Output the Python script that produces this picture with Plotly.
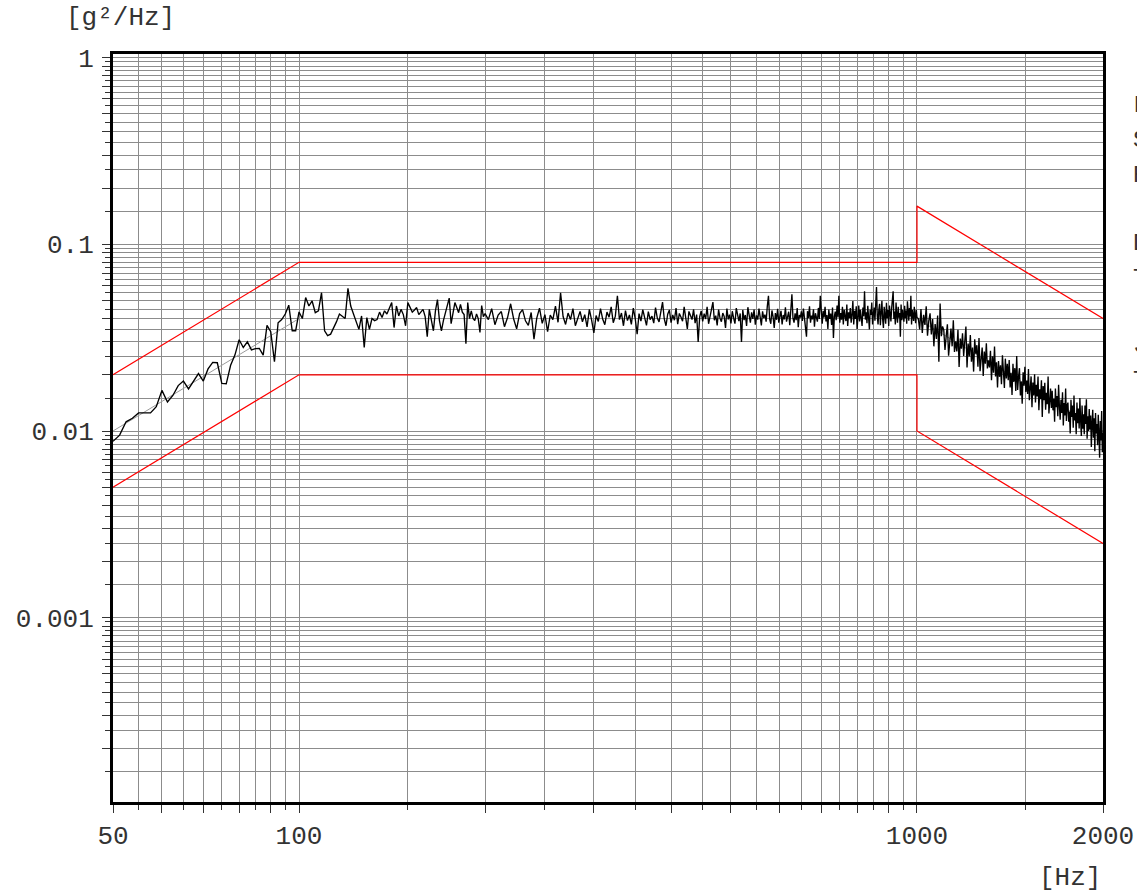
import numpy as np
import plotly.graph_objects as go

# ---------------- data ----------------
# tolerance limits and reference profile (g²/Hz)
lim_f = [50, 100, 1000, 1000, 2000]
upper_lim = [0.02, 0.08, 0.08, 0.16, 0.04]
lower_lim = [0.005, 0.02, 0.02, 0.01, 0.0025]
ref_f = [50, 100, 1000, 2000]
ref_psd = [0.01, 0.04, 0.04, 0.01]

# measured PSD, values in units of 1e-4 g²/Hz
# 50 Hz .. 98.75 Hz, step 1.25 Hz
psd_a = [88, 95, 112, 117, 125, 125, 125, 135, 165, 143, 155, 175, 185, 168, 185, 203, 185, 215, 233, 232,
         180, 179, 225, 255, 308, 280, 300, 272, 276, 277, 255, 368, 340, 235, 380, 395, 423, 472, 344, 344]
# 100 Hz .. 200 Hz, step 1.25 Hz
psd_b = [434, 400, 518, 467, 497, 430, 440, 550, 344, 324, 330, 355, 385, 423, 410, 400, 580, 467, 423, 380,
         350, 413, 280, 405, 350, 400, 390, 395, 433, 405, 440, 423, 458, 487, 358, 467, 413, 448, 420, 366,
         487, 458, 433, 445, 458, 420, 433, 448, 410, 320, 448, 400, 344, 440, 506, 390, 344, 390, 433, 470,
         515, 376, 420, 487, 458, 430, 476, 433, 420, 293, 487, 400, 440, 400, 390, 423, 400, 337, 470, 410, 425]
# 202.5 Hz .. 1000 Hz, step 2.5 Hz
psd_c = [395, 452, 371, 418, 436, 362, 405, 480, 398, 352, 425, 447, 389, 368, 431, 310, 402, 455, 377, 420,
         340, 418, 395, 466, 382, 550, 410, 372, 428, 395, 452, 366, 405, 437, 384, 420, 361, 448, 392, 335,
         415, 386, 452, 398, 371, 433, 407, 462, 380, 412, 530, 395, 428, 366, 441, 390, 418, 372, 455, 400,
         330, 425, 388, 447, 405, 368, 436, 395, 412, 378, 458, 402, 384, 430, 490, 398, 366, 422, 445, 380,
         418, 392, 455, 373, 426, 408, 387, 462, 401, 352, 437, 415, 395, 448, 378, 420, 300, 408, 440, 386,
         425, 398, 462, 375, 410, 436, 490, 392, 415, 368, 447, 402, 385, 428, 411, 356, 452, 396, 420, 377,
         438, 402, 376, 455, 413, 388, 426, 300, 445, 392, 418, 365, 460, 405, 380, 432, 398, 447, 371, 416,
         395, 452, 410, 368, 437, 402, 420, 385, 465, 530, 398, 375, 442, 408, 356, 428, 394, 451, 380, 415,
         440, 372, 418, 396, 460, 385, 412, 435, 368, 448, 540, 402, 380, 426, 392, 455, 360, 418, 405, 437,
         388, 452, 410, 375, 320, 438, 402, 465, 380, 415, 396, 448, 362, 427, 410, 385, 456, 398, 530, 412,
         375, 440, 405, 462, 386, 418, 352, 447, 398, 425, 370, 458, 315, 410, 436, 392, 470, 405, 530, 380,
         428, 395, 462, 372, 445, 410, 388, 476, 365, 432, 402, 455, 380, 418, 496, 372, 440, 398, 465, 352,
         418, 470, 386, 445, 402, 365, 458, 412, 560, 395, 432, 378, 468, 405, 350, 446, 418, 488, 372, 426,
         458, 390, 505, 590, 412, 372, 445, 480, 368, 432, 498, 395, 356, 462, 418, 375, 486, 402, 445, 365,
         470, 412, 386, 455, 520, 560, 398, 436, 372, 488, 415, 380, 462, 405, 428, 320, 476, 392, 445, 410,
         385, 468, 402, 442, 375, 495, 418, 390, 456, 410, 530, 372, 446, 405, 388, 462, 420, 378, 445, 405]
# 1005 Hz .. 2000 Hz, step 5 Hz
psd_d = [400, 350, 450, 335, 419, 370, 465, 324, 389, 427,
         329, 398, 284, 374, 311, 415, 235, 481, 322, 363,
         348, 272, 322, 373, 253, 310, 354, 284, 392, 265,
         302, 267, 348, 220, 313, 276, 334, 252, 290, 363,
         219, 294, 251, 326, 235, 280, 208, 310, 259, 288,
         221, 315, 209, 251, 280, 197, 266, 229, 295, 216,
         239, 219, 269, 187, 251, 205, 283, 196, 233, 171,
         237, 195, 225, 178, 254, 208, 170, 244, 191, 229,
         187, 240, 171, 205, 156, 229, 183, 217, 164, 252,
         166, 195, 217, 155, 184, 140, 206, 175, 221, 162,
         186, 158, 215, 146, 175, 196, 134, 182, 155, 201,
         142, 177, 153, 196, 129, 167, 148, 187, 119, 174,
         146, 181, 130, 160, 139, 196, 124, 151, 169, 133,
         164, 129, 149, 112, 169, 134, 154, 120, 177, 137,
         115, 147, 125, 161, 107, 141, 121, 169, 113, 137,
         142, 112, 127, 97, 147, 119, 137, 104, 155, 114,
         125, 96, 142, 110, 132, 103, 150, 114, 94, 137,
         103, 123, 96, 137, 109, 148, 91, 120, 100, 131,
         102, 121, 82, 110, 130, 92, 117, 78, 125, 97,
         109, 84, 122, 95, 72, 113, 89, 128, 77, 98]

# axis labels
x_label_vals = [50, 100, 1000, 2000]
x_label_text = ["50", "100", "1000", "2000"]
y_label_vals = [1, 0.1, 0.01, 0.001]
y_label_text = ["1", "0.1", "0.01", "0.001"]

# right-hand info block (cut off by the page edge)
info_lines = ["Level", "Sweep", "RMS", "Demand", "Time", "'", "Jit", "Total"]
info_rows_px = [105, 140, 175, 243, 278, 310, 345, 380]

# ---------------- build ----------------
f_a = 50 + 1.25 * np.arange(len(psd_a))
f_b = 100 + 1.25 * np.arange(len(psd_b))
f_c = 202.5 + 2.5 * np.arange(len(psd_c))
f_d = 1005 + 5.0 * np.arange(len(psd_d))
freq = np.concatenate([f_a, f_b, f_c, f_d])
psd = np.concatenate([psd_a, psd_b, psd_c, psd_d]) * 1e-4

# grid / tick positions
x_major = [50, 60, 70, 80, 90, 100, 200, 300, 400, 500, 600, 700, 800, 900, 1000, 2000]
x_minor = [55, 65, 75, 85, 95, 150, 250, 350, 450, 550, 650, 750, 850, 950, 1500]
y_major, y_minor = [], []
for e in [-4, -3, -2, -1]:
    for k in range(1, 10):
        y_major.append(k * 10.0 ** e)
        y_minor.append((k + 0.5) * 10.0 ** e)
y_major.append(1.0)

x_text = [x_label_text[x_label_vals.index(v)] if v in x_label_vals else "" for v in x_major]
y_text = []
for v in y_major:
    lab = ""
    for lv, lt in zip(y_label_vals, y_label_text):
        if abs(v - lv) / lv < 1e-9:
            lab = lt
    y_text.append(lab)

FONT = "Liberation Mono, Courier New, monospace"
GRID = "#8c8c8c"
TXT = "#333333"

fig = go.Figure()
fig.add_trace(go.Scatter(x=ref_f, y=ref_psd, mode="lines",
                         line=dict(color="#9a9a9a", width=1), showlegend=False, hoverinfo="skip"))
fig.add_trace(go.Scatter(x=freq, y=psd, mode="lines",
                         line=dict(color="#000000", width=1.35), showlegend=False))
fig.add_trace(go.Scatter(x=lim_f, y=upper_lim, mode="lines",
                         line=dict(color="#ff0000", width=1.2), showlegend=False))
fig.add_trace(go.Scatter(x=lim_f, y=lower_lim, mode="lines",
                         line=dict(color="#ff0000", width=1.2), showlegend=False))

axis_common = dict(
    type="log", tickmode="array", ticks="outside", ticklen=8, tickwidth=1, tickcolor="#333333",
    showgrid=True, gridcolor=GRID, gridwidth=1, zeroline=False, automargin=False,
    showline=True, linewidth=3, linecolor="#000000", mirror=True,
    tickfont=dict(family=FONT, size=26, color=TXT),
)

fig.update_xaxes(
    **axis_common,
    range=[np.log10(50), np.log10(2000)],
    tickvals=x_major, ticktext=x_text, ticklabelstandoff=0,
    minor=dict(tickmode="array", tickvals=x_minor, ticks="outside", ticklen=5,
               tickcolor="#333333", showgrid=True, gridcolor=GRID, gridwidth=1),
)
fig.update_yaxes(
    **axis_common,
    range=[-3.9866, 0.0187],
    tickvals=y_major, ticktext=y_text, ticklabelstandoff=3,
    minor=dict(tickmode="array", tickvals=y_minor, ticks="outside", ticklen=5,
               tickcolor="#333333", showgrid=True, gridcolor=GRID, gridwidth=1),
)

# page body margin is removed below, so the figure fills the page from (0,0)
W, H = 1137, 893
L, R, T, B = 113, 34, 54, 91
pw, ph = W - L - R, H - T - B


def px_x(x):
    return (x - L) / pw


def px_y(y):
    return (H - B - y) / ph


annotations = [
    dict(text="[g²/Hz]", x=px_x(120), y=px_y(18), xref="paper", yref="paper",
         showarrow=False, xanchor="center", yanchor="middle",
         font=dict(family=FONT, size=26, color=TXT)),
    dict(text="[Hz]", x=px_x(1070), y=px_y(878), xref="paper", yref="paper",
         showarrow=False, xanchor="center", yanchor="middle",
         font=dict(family=FONT, size=26, color=TXT)),
]
for txt, yp in zip(info_lines, info_rows_px):
    annotations.append(dict(text=txt, x=px_x(1131), y=px_y(yp), xref="paper", yref="paper",
                            showarrow=False, xanchor="left", yanchor="middle",
                            font=dict(family=FONT, size=24, color=TXT)))

fig.update_layout(
    width=W, height=H,
    margin=dict(l=L, r=R, t=T, b=B),
    paper_bgcolor="white", plot_bgcolor="white",
    annotations=annotations,
    showlegend=False,
)

fig.write_html(
    "out.html",
    config={"displayModeBar": False},
    post_script="document.body.style.margin='0';document.documentElement.style.overflow='hidden';",
)
